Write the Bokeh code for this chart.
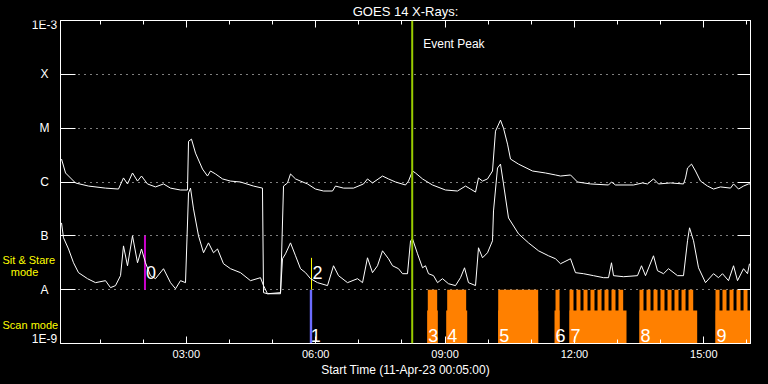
import numpy as np
from bokeh.plotting import figure
from bokeh.layouts import row
from bokeh.models import (ColumnDataSource, FixedTicker, LogAxis, LinearAxis, Label,
                          LabelSet, Span, Range1d, Title, CustomJSTickFormatter)
from bokeh.embed import file_html
from bokeh.resources import INLINE
from bokeh.core.properties import value

# ---------------- data (hours since 00:00, 11-Apr-23; flux in W/m^2) ----------------
start_hour = 5 / 60          # 00:05
end_hour = 16 + 5 / 60       # 16:05

long_t = [0.107, 0.200, 0.431, 0.733, 1.127, 1.428, 1.544, 1.637, 1.753, 1.869,
          1.962, 2.100, 2.286, 2.472, 2.634, 2.866, 3.028, 3.052, 3.121, 3.214,
          3.376, 3.492, 3.562, 3.678, 3.840, 4.026, 4.257, 4.559, 4.767, 4.791,
          4.883, 5.185, 5.255, 5.347, 5.417, 5.533, 5.649, 5.811, 5.996, 6.182,
          6.391, 6.460, 6.646, 6.878, 7.110, 7.202, 7.318, 7.550, 7.689, 7.852,
          8.083, 8.153, 8.246, 8.315, 8.478, 8.709, 9.011, 9.289, 9.475, 9.591,
          9.707, 9.776, 9.869, 9.985, 10.101, 10.170, 10.286, 10.356, 10.449, 10.518,
          10.704, 11.028, 11.330, 11.562, 11.678, 11.910, 12.072, 12.374, 12.791, 12.860,
          12.953, 13.370, 13.579, 13.695, 13.834, 13.950, 14.228, 14.530, 14.577, 14.623,
          14.716, 14.808, 14.924, 15.087, 15.226, 15.388, 15.620, 15.690, 15.806, 15.922,
          16.037, 16.083]
long_flux = [2.67e-6, 1.47e-6, 9.6e-7, 8.4e-7, 7.7e-7, 7.4e-7, 1.19e-6, 9.2e-7, 1.47e-6, 1.04e-6,
             1.29e-6, 9.2e-7, 8.1e-7, 9.2e-7, 7.7e-7, 7.1e-7, 7.1e-7, 5.7e-6, 6.25e-6, 3.44e-6,
             1.74e-6, 1.29e-6, 1.6e-6, 1.41e-6, 1.14e-6, 1.04e-6, 1.0e-6, 8.4e-7, 7.7e-7, 8.8e-9,
             8.4e-9, 8.4e-9, 8.4e-7, 9.6e-7, 1.41e-6, 1.14e-6, 1.04e-6, 9.2e-7, 7.4e-7, 6.8e-7,
             6.8e-7, 8.4e-7, 7.7e-7, 7.7e-7, 9.2e-7, 1.14e-6, 9.6e-7, 1.29e-6, 1.14e-6, 1.0e-6,
             8.8e-7, 1.04e-6, 1.6e-6, 1.47e-6, 1.14e-6, 8.8e-7, 7.1e-7, 6.8e-7, 8.4e-7, 7.4e-7,
             6.5e-7, 1.19e-6, 1.04e-6, 1.14e-6, 1.6e-6, 8.8e-6, 1.41e-5, 1.0e-5, 5.05e-6, 2.67e-6,
             2.15e-6, 1.6e-6, 1.47e-6, 1.35e-6, 1.29e-6, 1.35e-6, 1.0e-6, 9.2e-7, 8.8e-7, 1.0e-6,
             8.8e-7, 8.8e-7, 9.6e-7, 9.2e-7, 1.14e-6, 9.2e-7, 9.6e-7, 9.2e-7, 1.19e-6, 1.82e-6,
             2.15e-6, 1.6e-6, 1.04e-6, 8.4e-7, 7.4e-7, 8.1e-7, 7.7e-7, 9.2e-7, 7.4e-7, 8.4e-7,
             9.2e-7, 9.2e-7]

short_t = [0.107, 0.153, 0.269, 0.385, 0.501, 0.710, 0.895, 1.127, 1.243, 1.359,
           1.475, 1.544, 1.637, 1.753, 1.869, 1.962, 2.054, 2.170, 2.286, 2.472,
           2.634, 2.750, 2.866, 2.982, 3.052, 3.098, 3.168, 3.284, 3.400, 3.515,
           3.631, 3.724, 3.863, 4.026, 4.257, 4.489, 4.721, 4.791, 4.883, 5.185,
           5.231, 5.301, 5.417, 5.533, 5.649, 5.765, 5.881, 6.043, 6.275, 6.414,
           6.530, 6.739, 6.971, 7.087, 7.202, 7.318, 7.434, 7.550, 7.689, 7.782,
           7.922, 8.014, 8.130, 8.200, 8.246, 8.362, 8.478, 8.547, 8.617, 8.733,
           8.826, 8.941, 9.080, 9.243, 9.359, 9.452, 9.544, 9.707, 9.776, 9.869,
           9.985, 10.101, 10.124, 10.217, 10.286, 10.356, 10.472, 10.704, 10.936, 11.168,
           11.400, 11.562, 11.678, 11.910, 12.025, 12.211, 12.443, 12.675, 12.791, 12.860,
           12.907, 13.138, 13.463, 13.556, 13.648, 13.834, 13.927, 14.066, 14.182, 14.391,
           14.530, 14.623, 14.670, 14.762, 14.878, 15.040, 15.226, 15.342, 15.434, 15.573,
           15.690, 15.782, 15.922, 16.014, 16.060]
short_flux = [1.74e-7, 9.2e-8, 5.7e-8, 3.16e-8, 2.07e-8, 1.6e-8, 1.35e-8, 1.47e-8, 1.09e-8, 1.19e-8,
              1.82e-8, 6.5e-8, 2.78e-8, 1.0e-7, 3.16e-8, 5.7e-8, 3.16e-8, 1.82e-8, 1.6e-8, 2.45e-8,
              1.35e-8, 1.04e-8, 1.47e-8, 1.35e-8, 6.25e-7, 7.7e-7, 3.16e-7, 1.0e-7, 4.85e-8, 7.4e-8,
              4.85e-8, 5.7e-8, 3.03e-8, 2.45e-8, 2.07e-8, 1.47e-8, 1.67e-8, 1.19e-8, 8.4e-9, 8.8e-9,
              3.75e-8, 4.64e-8, 7.4e-8, 4.26e-8, 2.45e-8, 2.07e-8, 1.6e-8, 1.35e-8, 1.19e-8, 2.78e-8,
              1.82e-8, 1.35e-8, 1.6e-8, 1.35e-8, 3.91e-8, 2.07e-8, 2.78e-8, 5.27e-8, 3.75e-8, 2.78e-8,
              2.45e-8, 1.98e-8, 1.98e-8, 8.1e-8, 8.8e-8, 4.64e-8, 2.55e-8, 2.78e-8, 1.98e-8, 1.82e-8,
              1.35e-8, 1.6e-8, 1.29e-8, 1.19e-8, 1.67e-8, 2.55e-8, 1.35e-8, 1.19e-8, 6.0e-8, 3.91e-8,
              4.85e-8, 8.1e-8, 2.9e-7, 1.82e-6, 2.15e-6, 9.2e-7, 2.15e-7, 1.09e-7, 7.4e-8, 5.27e-8,
              4.26e-8, 3.75e-8, 3.03e-8, 3.75e-8, 2.07e-8, 1.98e-8, 1.82e-8, 1.67e-8, 1.67e-8, 3.16e-8,
              1.82e-8, 1.74e-8, 1.82e-8, 2.78e-8, 1.82e-8, 4.26e-8, 2.25e-8, 1.98e-8, 2.45e-8, 1.82e-8,
              1.82e-8, 8.1e-8, 1.41e-7, 8.1e-8, 2.55e-8, 1.35e-8, 1.98e-8, 1.67e-8, 1.98e-8, 1.47e-8,
              2.78e-8, 1.47e-8, 2.45e-8, 1.98e-8, 3.03e-8]

flux_levels = [1e-9, 1e-8, 1e-7, 1e-6, 1e-5, 1e-4, 1e-3]
flux_names = ["1E-9", "A", "B", "C", "M", "X", "1E-3"]
grid_levels = [1e-8, 1e-7, 1e-6, 1e-5, 1e-4]

xtick_hours = [3, 6, 9, 12, 15]
xtick_labels = ["03:00", "06:00", "09:00", "12:00", "15:00"]
xminor_hours = [1, 2, 4, 5, 7, 8, 10, 11, 13, 14, 16]

event_peak_hour = 8.239

# sit & stare events
sns_hour = [2.042, 5.904]
sns_top = [1e-7, 3.9e-8]
sns_label = ["0", "2"]

# scan event 1
scan1_start = [5.864]
scan1_end = [5.919]

# scan events 3-9: individual raster steps (upper row) and total coverage (lower row)
step_start = [8.600, 9.050, 10.233, 11.562, 11.886, 12.048, 12.211, 12.373, 12.536, 12.698,
              12.860, 13.022, 13.509, 13.672, 13.834, 13.996, 14.159, 14.321, 14.484, 14.646,
              15.272, 15.434, 15.597, 15.759, 15.922, 16.084]
step_end = [8.818, 9.490, 11.160, 11.655, 11.979, 12.141, 12.304, 12.466, 12.629, 12.791,
            12.953, 13.131, 13.602, 13.765, 13.927, 14.089, 14.252, 14.414, 14.577, 14.755,
            15.365, 15.527, 15.690, 15.852, 16.014, 16.177]
cover_start = [8.586, 9.027, 10.233, 11.539, 11.886, 13.509, 15.272]
cover_end = [8.832, 9.514, 11.160, 11.655, 13.208, 14.847, 16.200]

scan_label = ["1", "3", "4", "5", "6", "7", "8", "9"]
scan_label_hour = [5.864, 8.586, 9.027, 10.233, 11.539, 11.886, 13.509, 15.272]

# ---------------- layout ----------------
W, H = 768, 384
BL, BR, BT, BB = 60, 18, 19, 41      # frame margins in the final picture
LW = 58                              # width of the left label strip
FW, FH = W - BL - BR, H - BT - BB
FONT = "Liberation Sans"
BLANK = CustomJSTickFormatter(code="return ''")
BLACK = {"background-color": "black"}


def fy(py):
    """flux at a canvas row (used only to anchor text)"""
    return 10 ** (-3 - (py - BT) / FH * 6)


yr = Range1d(flux_levels[0], flux_levels[-1])

p = figure(width=W - LW, height=H, x_range=(start_hour, end_hour), y_range=yr,
           y_axis_type="log", output_backend="svg", toolbar_location=None, title=None,
           background_fill_color="black", border_fill_color="black", styles=BLACK,
           min_border_left=BL - LW, min_border_right=BR, min_border_top=BT, min_border_bottom=BB)
p.outline_line_color = "white"
p.outline_line_width = 1
p.xgrid.visible = False
p.ygrid[0].ticker = FixedTicker(ticks=grid_levels)
p.ygrid.grid_line_color = "white"
p.ygrid.grid_line_dash = "1 5"
p.ygrid.grid_line_width = 1


def style_axis(ax, tick_in, minor_in=0, show_labels=False):
    ax.axis_line_color = "white"
    ax.major_tick_line_color = "white"
    ax.minor_tick_line_color = "white"
    ax.major_tick_in = tick_in
    ax.major_tick_out = 0
    ax.minor_tick_in = minor_in
    ax.minor_tick_out = 0
    ax.major_label_text_color = "white"
    ax.major_label_text_font = FONT
    ax.major_label_text_font_size = "11px"
    if not show_labels:
        ax.formatter = BLANK
        ax.major_label_standoff = 0


xa = p.xaxis[0]
xa.ticker = FixedTicker(ticks=xtick_hours, minor_ticks=xminor_hours)
style_axis(xa, 7, 4, True)
xa.major_label_overrides = {h: s for h, s in zip(xtick_hours, xtick_labels)}
xa.major_label_standoff = 4

top = LinearAxis(ticker=FixedTicker(ticks=xtick_hours, minor_ticks=xminor_hours))
style_axis(top, 7, 4, False)
p.add_layout(top, "above")

ya = p.yaxis[0]
ya.ticker = FixedTicker(ticks=flux_levels)
style_axis(ya, 15)

right = LogAxis(ticker=FixedTicker(ticks=flux_levels))
style_axis(right, 13)
p.add_layout(right, "right")

p.add_layout(Title(text="GOES 14 X-Rays:", align="center", text_color="white",
                   text_font=FONT, text_font_size="13px", text_font_style="normal",
                   standoff=3), "above")
p.add_layout(Title(text="Start Time (11-Apr-23 00:05:00)", align="center", text_color="white",
                   text_font=FONT, text_font_size="12px", text_font_style="normal",
                   vertical_align="top", standoff=0), "below")

# scan coverage bars
p.quad(left=cover_start, right=cover_end, bottom=flux_levels[0], top=fy(BT + FH - 33),
       fill_color="#ff8000", line_color=None)
p.quad(left=step_start, right=step_end, bottom=flux_levels[0], top=flux_levels[1],
       fill_color="#ff8000", line_color=None)
p.quad(left=scan1_start, right=scan1_end, bottom=flux_levels[0], top=flux_levels[1],
       fill_color="#6c6cff", line_color=None)

# sit & stare markers
sns_src = ColumnDataSource(dict(x=sns_hour, top=sns_top, c=["#cc00cc", "#ffff00"], w=[2, 1]))
p.segment(x0="x", y0=flux_levels[1], x1="x", y1="top", line_color="c", line_width="w", source=sns_src)

# GOES curves
p.line(long_t, long_flux, line_color="white", line_width=1)
p.line(short_t, short_flux, line_color="white", line_width=1)

p.add_layout(Span(location=event_peak_hour, dimension="height",
                  line_color="#99cc00", line_width=2))

# event numbers (inside the frame)
p.add_layout(LabelSet(x="x", y="y", text="t", x_offset=1,
                      source=ColumnDataSource(dict(x=sns_hour, y=[fy(278)] * len(sns_hour), t=sns_label)),
                      text_color="white", text_font=value(FONT), text_font_size=value("18px"),
                      text_baseline="alphabetic", text_align="left"))
p.add_layout(LabelSet(x="x", y="y", text="t", x_offset=1,
                      source=ColumnDataSource(dict(x=scan_label_hour, y=[fy(341)] * len(scan_label_hour),
                                                   t=scan_label)),
                      text_color="white", text_font=value(FONT), text_font_size=value("18px"),
                      text_baseline="alphabetic", text_align="left"))
p.add_layout(Label(x=event_peak_hour, y=fy(43), x_offset=11, text="Event Peak",
                   text_color="white", text_baseline="middle", text_font=FONT,
                   text_font_size="12px"))

# ---------------- left strip: y tick names and mode captions ----------------
lf = figure(width=LW, height=H, x_range=Range1d(0, LW), y_range=yr, y_axis_type="log",
            x_axis_location=None, y_axis_location=None, output_backend="svg",
            toolbar_location=None, title=None, styles=BLACK,
            background_fill_color="black", border_fill_color="black",
            min_border_left=0, min_border_right=0, min_border_top=BT, min_border_bottom=BB)
lf.outline_line_color = None
lf.grid.visible = False

tick_x = 44
label_rows = [fy(338)] + flux_levels[1:-1] + [fy(24)]
lf.text(x=[tick_x] * len(flux_names), y=label_rows, text=flux_names, text_color="white",
        text_font=value(FONT), text_font_size=value("12px"),
        text_align="center", text_baseline="middle")

lf.text(x=[2], y=[fy(259)], text=["Sit & Stare"], text_color="#ffff00",
        text_font=value(FONT), text_font_size=value("11px"),
        text_align="left", text_baseline="middle")
lf.text(x=[24], y=[fy(271)], text=["mode"], text_color="#ffff00",
        text_font=value(FONT), text_font_size=value("11px"),
        text_align="center", text_baseline="middle")
lf.text(x=[2], y=[fy(324)], text=["Scan mode"], text_color="#ffff00",
        text_font=value(FONT), text_font_size=value("11px"),
        text_align="left", text_baseline="middle")

layout = row(lf, p, spacing=0, styles=BLACK)
open("out.html", "w").write(file_html(layout, INLINE))
